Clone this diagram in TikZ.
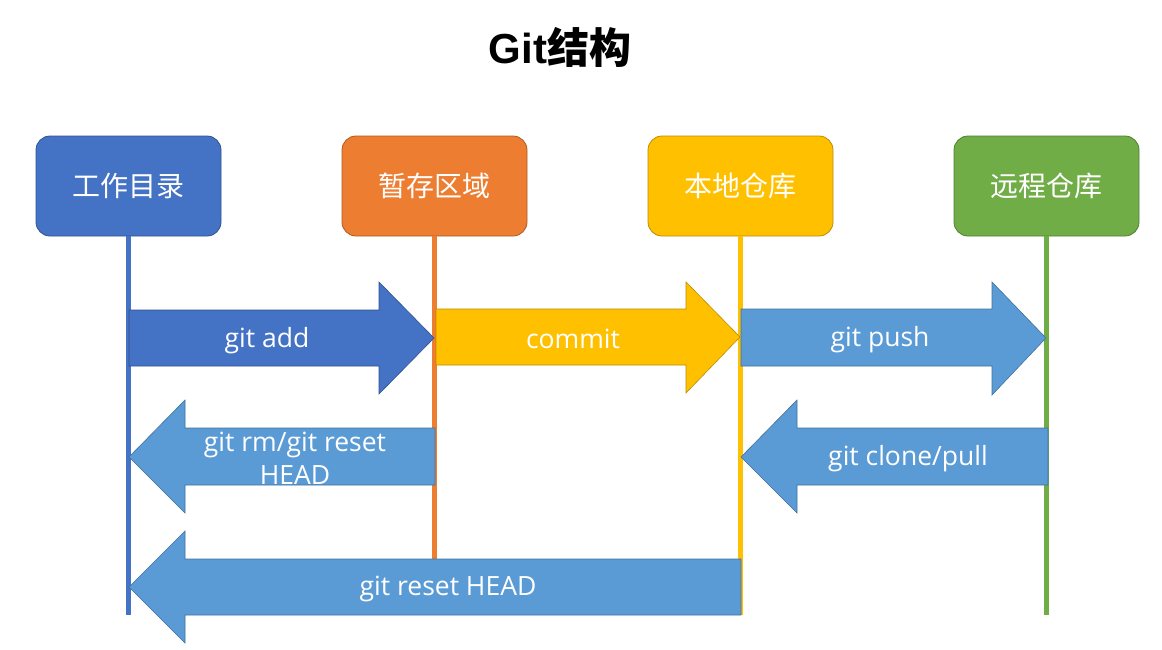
\documentclass[tikz,border=0pt]{standalone}
\usepackage{fontspec}
\setmainfont{Open Sans}
\newfontfamily\cjk{Noto Sans CJK SC}
\newfontfamily\titlelatin{Liberation Sans}
\definecolor{cblue}{HTML}{4472C4}
\definecolor{cblueD}{HTML}{2F528F}
\definecolor{corange}{HTML}{ED7D31}
\definecolor{corangeD}{HTML}{AE5A21}
\definecolor{cyellow}{HTML}{FFC000}
\definecolor{cyellowD}{HTML}{BC8C00}
\definecolor{cgreen}{HTML}{70AD47}
\definecolor{cgreenD}{HTML}{507E32}
\definecolor{clight}{HTML}{5B9BD5}
\definecolor{clightD}{HTML}{41719C}
\begin{document}
\begin{tikzpicture}[x=1pt,y=-1pt,
  box/.style={rounded corners=14pt, minimum width=185pt, minimum height=100pt,
    inner sep=0pt, text=white, font=\cjk\fontsize{28}{32}\selectfont, line width=0.8pt},
  life/.style={line width=5pt},
  blockarrow/.style={line width=0.6pt},
  lbl/.style={text=white, font=\fontsize{26.5}{33}\selectfont, align=center, inner sep=0pt}]
\useasboundingbox (0,0) rectangle (1162,649);
% title
\node[font=\bfseries\fontsize{42}{46}\selectfont, inner sep=0pt] (title) at (560,47) {{\titlelatin Git}{\cjk 结构}};
% boxes
\node[box, fill=cblue, draw=cblueD] (wd) at (128.5,186) {工作目录};
\node[box, fill=corange, draw=corangeD] (st) at (434.5,186) {暂存区域};
\node[box, fill=cyellow, draw=cyellowD] (lr) at (740.5,186) {本地仓库};
\node[box, fill=cgreen, draw=cgreenD] (rr) at (1046.5,186) {远程仓库};
% lifeline ends
\coordinate (wdE) at (128,615);
\coordinate (stE) at (434,600);
\coordinate (lrE) at (740,615);
\coordinate (rrE) at (1046,615);
\draw[life, cblue] (wd.south -| wdE) -- (wdE);
\draw[life, corange] (st.south -| stE) -- (stE);
\draw[life, cyellow] (lr.south -| lrE) -- (lrE);
\draw[life, cgreen] (rr.south -| rrE) -- (rrE);
% git add
\draw[blockarrow, fill=cblue, draw=cblueD]
  (129,310) -- (379,310) -- (379,282) -- (434,338) -- (379,394) -- (379,366) -- (129,366) -- cycle;
\node[lbl] (addl) at (267,341) {git add};
% commit
\draw[blockarrow, fill=cyellow, draw=cyellowD]
  (436,309) -- (686,309) -- (686,282) -- (740,337) -- (686,393) -- (686,365) -- (436,365) -- cycle;
\node[lbl] (coml) at (573,339) {commit};
% git push
\draw[blockarrow, fill=clight, draw=clightD]
  (741,309) -- (992,309) -- (992,282) -- (1046,338) -- (992,395) -- (992,366) -- (741,366) -- cycle;
\node[lbl] (pushl) at (880,340) {git push};
% git rm / reset
\draw[blockarrow, fill=clight, draw=clightD]
  (435,428) -- (185,428) -- (185,400) -- (129,457) -- (185,513) -- (185,485) -- (435,485) -- cycle;
\node[lbl] (rml) at (295,458) {git rm/git reset\\HEAD};
% git clone/pull
\draw[blockarrow, fill=clight, draw=clightD]
  (1048,428) -- (797,428) -- (797,400) -- (741,457) -- (797,513) -- (797,485) -- (1048,485) -- cycle;
\node[lbl] (clonel) at (908,459) {git clone/pull};
% git reset HEAD
\draw[blockarrow, fill=clight, draw=clightD]
  (741,559) -- (185,559) -- (185,531) -- (129,587) -- (185,643) -- (185,615) -- (741,615) -- cycle;
\node[lbl] (resetl) at (448,589) {git reset HEAD};
\end{tikzpicture}
\end{document}
